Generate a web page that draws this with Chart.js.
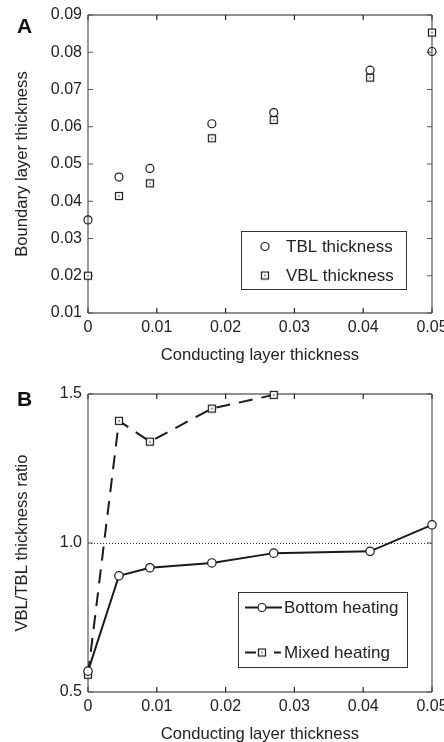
<!DOCTYPE html>
<html>
<head>
<meta charset="utf-8">
<script src="https://cdn.jsdelivr.net/npm/chart.js@4.4.1/dist/chart.umd.min.js"></script>
<style>
  html, body { margin: 0; padding: 0; background: #fff; }
  #wrap { position: relative; width: 444px; height: 742px; overflow: hidden; }
  canvas { position: absolute; left: 0; }
  #chartA { top: 0; }
  #chartB { top: 370px; }
  .panel { position: absolute; left: 17px; font: bold 21px "Liberation Sans", Arial, sans-serif; line-height: 21px; color: #111; }
</style>
</head>
<body>
<div id="wrap">
  <canvas id="chartA" width="444" height="370"></canvas>
  <canvas id="chartB" width="444" height="372"></canvas>
  <div class="panel" style="top:15px">A</div>
  <div class="panel" style="top:388px">B</div>
</div>
<script>
// values
const conducting = [0, 0.0045, 0.009, 0.018, 0.027, 0.041, 0.05];
const tblThickness = [0.035, 0.0465, 0.0488, 0.0608, 0.0638, 0.0752, 0.0802];
const vblThickness = [0.020, 0.0414, 0.0448, 0.0569, 0.0618, 0.0732, 0.0853];

const bottomRatio = [0.57, 0.89, 0.917, 0.933, 0.966, 0.972, 1.061];
const mixedConducting = [0, 0.0045, 0.009, 0.018, 0.027];
const mixedRatio = [0.558, 1.41, 1.34, 1.451, 1.497];

const xTickLabels = ['0', '0.01', '0.02', '0.03', '0.04', '0.05'];
const yTickLabelsA = ['0.01', '0.02', '0.03', '0.04', '0.05', '0.06', '0.07', '0.08', '0.09'];
const yTickLabelsB = ['0.5', '1.0', '1.5'];

const ink = '#1a1a1a';
const fontFamily = '"Liberation Sans", Arial, sans-serif';
Chart.defaults.font.family = fontFamily;
Chart.defaults.font.size = 16;
Chart.defaults.color = '#222';

// square marker with a small dot in the middle
function makeSquare() {
  const c = document.createElement('canvas');
  c.width = 10; c.height = 10;
  const g = c.getContext('2d');
  g.fillStyle = '#fff';
  g.fillRect(1, 1, 8, 8);
  g.strokeStyle = ink;
  g.lineWidth = 1.2;
  g.strokeRect(1.5, 1.5, 7, 7);
  g.fillStyle = '#999';
  g.fillRect(4, 4, 2, 2);
  return c;
}
const squareImg = makeSquare();

function points(xs, ys) {
  return xs.map((v, i) => ({ x: v, y: ys[i] }));
}

// box frame, inward ticks and optional dotted reference line
const frame = {
  id: 'frame',
  beforeDatasetsDraw(chart, args, opts) {
    const { ctx, chartArea: a, scales: { x, y } } = chart;
    ctx.save();
    if (opts.refLine != null) {
      const py = Math.round(y.getPixelForValue(opts.refLine)) + 0.5;
      ctx.setLineDash([1, 2]);
      ctx.lineWidth = 1;
      ctx.strokeStyle = '#333';
      ctx.beginPath();
      ctx.moveTo(a.left, py);
      ctx.lineTo(a.right, py);
      ctx.stroke();
      ctx.setLineDash([]);
    }
    ctx.lineWidth = 1.2;
    ctx.strokeStyle = '#222';
    ctx.beginPath();
    ctx.moveTo(a.left, a.top); ctx.lineTo(a.right, a.top);
    ctx.moveTo(a.left, a.bottom); ctx.lineTo(a.right, a.bottom);
    x.ticks.forEach(t => {
      const px = x.getPixelForValue(t.value);
      ctx.moveTo(px, a.bottom); ctx.lineTo(px, a.bottom - 5);
      ctx.moveTo(px, a.top); ctx.lineTo(px, a.top + 5);
    });
    ctx.stroke();
    ctx.strokeStyle = '#555';
    ctx.beginPath();
    ctx.moveTo(a.left, a.top); ctx.lineTo(a.left, a.bottom);
    ctx.moveTo(a.right, a.top); ctx.lineTo(a.right, a.bottom);
    y.ticks.forEach(t => {
      const py = y.getPixelForValue(t.value);
      ctx.moveTo(a.left, py); ctx.lineTo(a.left + 5, py);
      ctx.moveTo(a.right, py); ctx.lineTo(a.right - 5, py);
    });
    ctx.stroke();
    ctx.restore();
  }
};

// boxed legend inside the plot
const boxLegend = {
  id: 'boxLegend',
  afterDraw(chart, args, opts) {
    const ctx = chart.ctx;
    const [bx, by, bw, bh] = opts.box;
    ctx.save();
    ctx.fillStyle = '#fff';
    ctx.fillRect(bx, by, bw, bh);
    ctx.strokeStyle = '#333';
    ctx.lineWidth = 1;
    ctx.strokeRect(bx, by, bw, bh);
    opts.items.forEach(it => {
      if (it.line) {
        ctx.strokeStyle = ink;
        ctx.lineWidth = 2;
        ctx.setLineDash(it.dash || []);
        ctx.beginPath();
        ctx.moveTo(it.line[0], it.y);
        ctx.lineTo(it.line[1], it.y);
        ctx.stroke();
        ctx.setLineDash([]);
      }
      if (it.marker === 'circle') {
        ctx.fillStyle = '#fff';
        ctx.strokeStyle = ink;
        ctx.lineWidth = 1.2;
        ctx.beginPath();
        ctx.arc(it.mx, it.y, 4, 0, Math.PI * 2);
        ctx.fill();
        ctx.stroke();
      } else {
        ctx.drawImage(squareImg, it.mx - 5, it.y - 5);
      }
      ctx.fillStyle = '#222';
      ctx.font = '17px ' + fontFamily;
      ctx.textBaseline = 'middle';
      ctx.fillText(it.text, it.tx, it.y + 1);
    });
    ctx.restore();
  }
};

function xScale(titlePad, height) {
  return {
    type: 'linear',
    min: 0,
    max: 0.05,
    grid: { display: false, drawTicks: false },
    border: { display: false },
    afterBuildTicks: s => { s.ticks = xTickLabels.map(t => ({ value: parseFloat(t) })); },
    ticks: { padding: 5, callback: (v, i) => xTickLabels[i] },
    title: { display: true, text: 'Conducting layer thickness', font: { size: 16.6 }, padding: { top: 0, bottom: titlePad } },
    afterFit: s => { s.height = height; s.paddingLeft = 0; s.paddingRight = 0; }
  };
}

function yScale(min, max, labels, title) {
  return {
    type: 'linear',
    min: min,
    max: max,
    grid: { display: false, drawTicks: false },
    border: { display: false },
    afterBuildTicks: s => { s.ticks = labels.map(t => ({ value: parseFloat(t) })); },
    ticks: { padding: 6, callback: (v, i) => labels[i] },
    title: { display: true, text: title, font: { size: 16.6 }, padding: { top: 12, bottom: 0 } },
    afterFit: s => { s.width = 88; s.paddingTop = 0; s.paddingBottom = 0; }
  };
}

new Chart(document.getElementById('chartA'), {
  type: 'scatter',
  data: {
    datasets: [
      {
        label: 'TBL thickness',
        data: points(conducting, tblThickness),
        pointStyle: 'circle',
        pointRadius: 4,
        borderColor: ink,
        backgroundColor: 'rgba(255,255,255,0)',
        borderWidth: 1.2,
        clip: false
      },
      {
        label: 'VBL thickness',
        data: points(conducting, vblThickness),
        pointStyle: squareImg,
        borderColor: ink,
        clip: false
      }
    ]
  },
  options: {
    responsive: false,
    animation: false,
    layout: { padding: { left: 0, right: 12, top: 15, bottom: 0 } },
    scales: {
      x: xScale(5, 57),
      y: yScale(0.01, 0.09, yTickLabelsA, 'Boundary layer thickness')
    },
    plugins: {
      legend: { display: false },
      tooltip: { enabled: false },
      frame: {},
      boxLegend: {
        box: [241.5, 231.5, 165, 58],
        items: [
          { marker: 'circle', mx: 265, tx: 286, y: 246.5, text: 'TBL thickness' },
          { marker: 'square', mx: 265, tx: 286, y: 275.5, text: 'VBL thickness' }
        ]
      }
    }
  },
  plugins: [frame, boxLegend]
});

new Chart(document.getElementById('chartB'), {
  type: 'scatter',
  data: {
    datasets: [
      {
        label: 'Bottom heating',
        data: points(conducting, bottomRatio),
        showLine: true,
        borderColor: ink,
        borderWidth: 2,
        pointStyle: 'circle',
        pointRadius: 4.2,
        pointBorderWidth: 1.2,
        pointBackgroundColor: '#fff',
        pointBorderColor: ink,
        clip: false
      },
      {
        label: 'Mixed heating',
        data: points(mixedConducting, mixedRatio),
        showLine: true,
        borderColor: ink,
        borderWidth: 2,
        borderDash: [14, 9],
        pointStyle: squareImg,
        clip: false
      }
    ]
  },
  options: {
    responsive: false,
    animation: false,
    layout: { padding: { left: 0, right: 12, top: 24, bottom: 0 } },
    scales: {
      x: xScale(-2, 50),
      y: yScale(0.5, 1.5, yTickLabelsB, 'VBL/TBL thickness ratio')
    },
    plugins: {
      legend: { display: false },
      tooltip: { enabled: false },
      frame: { refLine: 1.0 },
      boxLegend: {
        box: [238.5, 222.5, 169, 75],
        items: [
          { marker: 'circle', line: [245, 282], mx: 262, tx: 284, y: 237.5, text: 'Bottom heating' },
          { marker: 'square', line: [245, 281], dash: [11, 18], mx: 262, tx: 284, y: 282.5, text: 'Mixed heating' }
        ]
      }
    }
  },
  plugins: [frame, boxLegend]
});
</script>
</body>
</html>
